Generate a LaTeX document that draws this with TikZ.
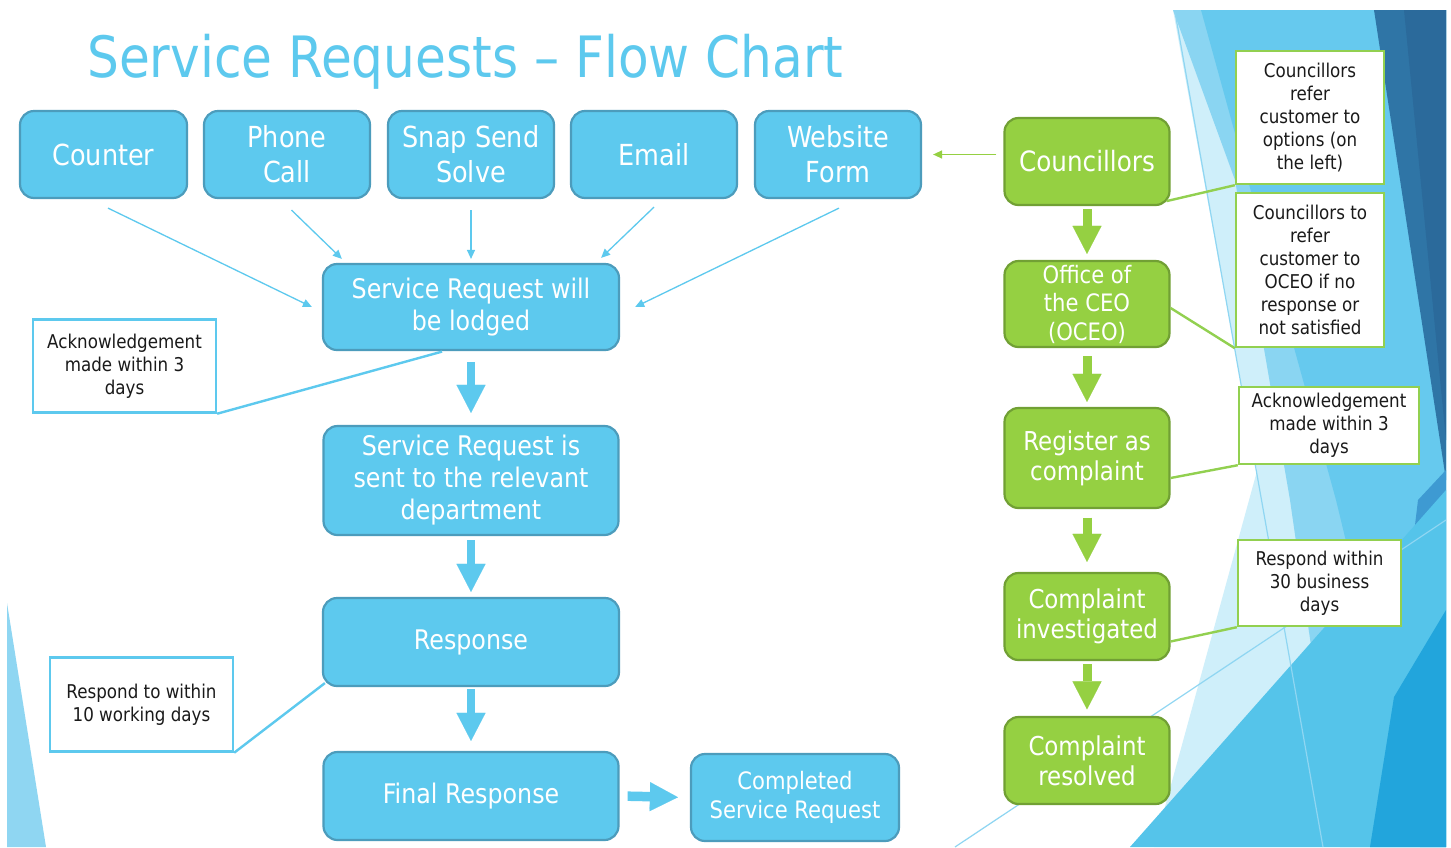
\documentclass[tikz,border=0pt]{standalone}
\usepackage{fontspec}
\setmainfont{DejaVu Sans}[FakeStretch=0.88]
\usetikzlibrary{arrows.meta,calc}

\definecolor{sky}{HTML}{5DC9EE}
\definecolor{skyedge}{HTML}{4C9CBC}
\definecolor{leaf}{HTML}{95D042}
\definecolor{leafedge}{HTML}{71A034}
\definecolor{noteleaf}{HTML}{92D050}
\definecolor{ink}{HTML}{1A1A1A}
% backdrop facets
\definecolor{facetpale}{HTML}{CFEFFA}
\definecolor{facetlight}{HTML}{8AD5F2}
\definecolor{facetsky}{HTML}{66C9EE}
\definecolor{facetdark}{HTML}{2F75A6}
\definecolor{facetdeep}{HTML}{2B6A9B}
\definecolor{facetmid}{HTML}{3E9AD2}
\definecolor{facetmass}{HTML}{55C4EA}
\definecolor{facetbright}{HTML}{22A5DC}
\definecolor{facetline}{HTML}{8FD6F2}

\newcommand\notefont{\fontsize{19}{23}\selectfont}
\newcommand\rowfont{\fontsize{29}{35}\selectfont}
\newcommand\stepfont{\fontsize{27}{32}\selectfont}
\newcommand\leaffont{\fontsize{26}{30}\selectfont}

\begin{document}
\begin{tikzpicture}[x=1pt,y=-1pt,
  bluebox/.style={draw=skyedge,line width=2.2pt,fill=sky,rounded corners=14pt,
    text=white,align=center,inner sep=0pt},
  greenbox/.style={draw=leafedge,line width=2.2pt,fill=leaf,rounded corners=14pt,
    text=white,align=center,inner sep=0pt,minimum width=165pt},
  bluenote/.style={draw=sky,line width=2.4pt,fill=white,text=ink,align=center,
    inner sep=0pt,font=\notefont},
  greennote/.style={draw=noteleaf,line width=2.4pt,fill=white,text=ink,align=center,
    inner sep=0pt,font=\notefont},
  feed/.style={draw=sky,line width=1.3pt,-{Triangle[length=9pt,width=8pt]}},
  bluelink/.style={draw=sky,line width=2.4pt},
  greenlink/.style={draw=noteleaf,line width=2.4pt},
  bluestep/.style={draw=sky,line width=8.5pt,
    -{Triangle[length=28pt,width=29pt,line width=0.1pt]}},
  greenstep/.style={draw=leaf,line width=9pt,
    -{Triangle[length=28pt,width=29pt,line width=0.1pt]}},
]
\useasboundingbox (0,0) rectangle (1451,847);
\fill[white] (0,0) rectangle (1451,847);

% ---- faceted backdrop on the right and the sliver on the left ----
\fill[facetpale] (1173,10) -- (1257,471) -- (1154,847) -- (1446,847) -- (1446,10) -- cycle;
\fill[facetlight] (1173,10) -- (1235,180) -- (1290,500) -- (1340,847) -- (1446,847) -- (1446,10) -- cycle;
\fill[facetsky] (1201,10) -- (1336,500) -- (1420,847) -- (1446,847) -- (1446,10) -- cycle;
\fill[facetdark] (1374,10) -- (1446,10) -- (1446,480) -- cycle;
\fill[facetdeep] (1404,10) -- (1446,10) -- (1446,440) -- cycle;
\fill[facetmid] (1418,500) -- (1446,470) -- (1446,610) -- (1394,700) -- cycle;
\fill[facetmass] (1130,847) -- (1446,490) -- (1446,847) -- cycle;
\fill[facetbright] (1370,847) -- (1394,697) -- (1446,610) -- (1446,847) -- cycle;
\draw[facetline,line width=1.2pt] (1175,12) -- (1323,847);
\draw[facetline,line width=1.2pt] (955,847) -- (1446,520);
\fill[facetline] (7,603) -- (7,847) -- (46,847) -- cycle;

% ---- title ----
\node[anchor=base west,inner sep=0pt,text=sky,font=\fontsize{57}{60}\selectfont]
  (title) at (87,77) {Service Requests – Flow Chart};

% ---- ways a request comes in ----
\node[bluebox,minimum width=167pt,minimum height=87pt,font=\rowfont] (counter) at (103.5,154.5) {Counter};
\node[bluebox,minimum width=166pt,minimum height=87pt,font=\rowfont] (phone) at (287,154.5) {Phone\\Call};
\node[bluebox,minimum width=166pt,minimum height=87pt,font=\rowfont] (snap) at (471,154.5) {Snap Send\\Solve};
\node[bluebox,minimum width=166pt,minimum height=87pt,font=\rowfont] (email) at (654,154.5) {Email};
\node[bluebox,minimum width=166pt,minimum height=87pt,font=\rowfont] (web) at (838,154.5) {Website\\Form};

% ---- request handling ----
\node[bluebox,minimum width=296pt,minimum height=86pt,font=\stepfont] (lodged) at (471,307) {Service Request will\\be lodged};
\node[bluebox,minimum width=295pt,minimum height=109pt,font=\stepfont] (sent) at (471,480.5) {Service Request is\\sent to the relevant\\department};
\node[bluebox,minimum width=296pt,minimum height=88pt,font=\stepfont] (resp) at (471,642) {Response};
\node[bluebox,minimum width=295pt,minimum height=88pt,font=\stepfont] (final) at (471,796) {Final Response};
\node[bluebox,minimum width=208pt,minimum height=87pt,font=\fontsize{24}{29}\selectfont] (done) at (795,797.5) {Completed\\Service Request};

\node[bluenote,minimum width=183pt,minimum height=93pt] (ackL) at (124.5,366) {Acknowledgement\\made within 3\\days};
\node[bluenote,minimum width=183pt,minimum height=94pt] (tenL) at (141.5,704.5) {Respond to within\\10 working days};

% ---- complaint path ----
\node[greenbox,minimum height=87pt,font=\fontsize{28}{32}\selectfont] (coun) at (1087,161.5) {Councillors};
\node[greenbox,minimum height=86pt,font=\fontsize{24}{28.5}\selectfont] (oceo) at (1087,304) {Office of\\the CEO\\(OCEO)};
\node[greenbox,minimum height=100pt,font=\leaffont] (reg) at (1087,458) {Register as\\complaint};
\node[greenbox,minimum height=87pt,font=\leaffont] (inv) at (1087,616.5) {Complaint\\investigated};
\node[greenbox,minimum height=87pt,font=\leaffont] (res) at (1087,760.5) {Complaint\\resolved};

\node[greennote,minimum width=148pt,minimum height=133pt] (noteA) at (1310,117.5) {Councillors\\refer\\customer to\\options (on\\the left)};
\node[greennote,minimum width=148pt,minimum height=154pt] (noteB) at (1310,270) {Councillors to\\refer\\customer to\\OCEO if no\\response or\\not satisfied};
\node[greennote,minimum width=180pt,minimum height=77pt] (noteC) at (1329,425.5) {Acknowledgement\\made within 3\\days};
\node[greennote,minimum width=163pt,minimum height=86pt] (noteD) at (1319.5,583) {Respond within\\30 business\\days};

% ---- thin feeders into the lodged request ----
\draw[feed] ($(counter.south)+(4.5,9)$) -- ($(lodged.west)+(-10,0)$);
\draw[feed] ($(phone.south)+(4.5,11)$) -- ($(lodged.north west)+(20,-4)$);
\draw[feed] ($(snap.south)+(0,11)$) -- ($(lodged.north)+(0,-4)$);
\draw[feed] ($(email.south)+(0,8)$) -- ($(lodged.north east)+(-19,-5)$);
\draw[feed] ($(web.south)+(1,9)$) -- ($(lodged.east)+(15,0)$);
\draw[draw=leaf,line width=1.3pt,-{Triangle[length=9pt,width=8pt]}]
  ($(coun.west)+(-7,-7)$) -- ($(web.east)+(11,0)$);

% ---- main flow arrows ----
\draw[bluestep,shorten <=11pt,shorten >=12pt] (lodged.south) -- (sent.north);
\draw[bluestep,shorten <=4pt,shorten >=5pt] (sent.south) -- (resp.north);
\draw[bluestep,shorten <=2pt,shorten >=10pt] (resp.south) -- (final.north);
\draw[bluestep,line width=9.5pt,shorten <=8pt,shorten >=12pt] (final.east) -- (done.west);

\draw[greenstep,shorten <=3pt,shorten >=6pt] (coun.south) -- (oceo.north);
\draw[greenstep,shorten <=8pt,shorten >=5pt] (oceo.south) -- (reg.north);
\draw[greenstep,shorten <=8.5pt,shorten >=10pt] (reg.south) -- (inv.north);
\draw[greenstep,shorten <=3pt,shorten >=6.5pt] (inv.south) -- (res.north);

% ---- callout leaders ----
\draw[bluelink] ($(lodged.south)+(-29,0.5)$) -- (ackL.south east);
\draw[bluelink] ($(resp.south west)+(3,-4)$) -- (tenL.south east);
\draw[greenlink] ($(coun.south east)+(-4,-5)$) -- (noteA.south west);
\draw[greenlink] ($(oceo.east)+(0,4)$) -- (noteB.south west);
\draw[greenlink] ($(reg.east)+(0,20)$) -- (noteC.south west);
\draw[greenlink] ($(inv.east)+(0,25)$) -- (noteD.south west);
\end{tikzpicture}
\end{document}
